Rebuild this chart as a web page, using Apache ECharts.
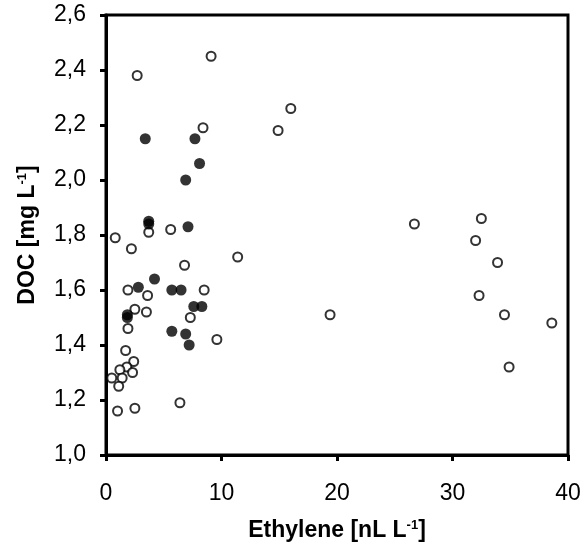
<!DOCTYPE html>
<html>
<head>
<meta charset="utf-8">
<script src="https://cdn.jsdelivr.net/npm/echarts@6/dist/echarts.min.js"></script>
<style>
  html, body { margin: 0; padding: 0; background: #fff; }
  #main { width: 585px; height: 556px; }
</style>
</head>
<body>
<div id="main"></div>
<script>
// open circles
var openX = [0.8, 2.2, 3.7, 5.6, 6.8, 11.4, 1.9, 3.6, 2.5, 3.5, 8.5, 7.3, 1.9, 9.6, 1.7, 2.4, 1.8, 1.2, 2.3, 0.5, 1.4, 1.1, 6.4, 1.0, 2.5,
             2.7, 9.1, 16.0, 14.9, 8.4, 26.7, 32.5, 32.0, 33.9, 32.3, 19.4, 34.5, 38.6, 34.9];
var openY = [1.79, 1.75, 1.81, 1.82, 1.69, 1.72, 1.60, 1.58, 1.53, 1.52, 1.60, 1.50, 1.46, 1.42, 1.38, 1.34, 1.32, 1.31, 1.30, 1.28, 1.28, 1.25, 1.19, 1.16, 1.17,
             2.38, 2.45, 2.26, 2.18, 2.19, 1.84, 1.86, 1.78, 1.70, 1.58, 1.51, 1.51, 1.48, 1.32];
// filled circles
var filledX = [3.4, 7.7, 8.1, 6.9, 3.7, 3.7, 7.1, 2.8, 4.2, 5.7, 6.5, 7.6, 8.3, 1.85, 1.85, 5.7, 6.9, 7.2];
var filledY = [2.15, 2.15, 2.06, 2.00, 1.85, 1.84, 1.83, 1.61, 1.64, 1.60, 1.60, 1.54, 1.54, 1.51, 1.50, 1.45, 1.44, 1.40];

function pairs(xs, ys) {
    var res = [];
    for (var i = 0; i < xs.length; i++) {
        res.push([xs[i], ys[i]]);
    }
    return res;
}

var myChart = echarts.init(document.getElementById('main'));
var font = 'Liberation Sans, Arial, sans-serif';

var nameRich = {
    b: { fontFamily: font, fontWeight: 'bold', fontSize: 23, color: '#000' },
    s: { fontFamily: font, fontWeight: 'bold', fontSize: 13, color: '#000', verticalAlign: 'top', padding: [0, 0, 10, 0] }
};

var option = {
    backgroundColor: '#ffffff',
    animation: false,
    grid: {
        left: 106, right: 17, top: 15, bottom: 101,
        show: true,
        borderColor: '#000',
        borderWidth: 3,
        backgroundColor: 'transparent'
    },
    xAxis: {
        type: 'value',
        min: 0, max: 40, interval: 10,
        name: '{b|Ethylene [nL L}{s|-1}{b|]}',
        nameLocation: 'middle',
        nameGap: 64,
        nameTextStyle: { rich: nameRich },
        axisLine: { lineStyle: { color: '#000', width: 3 } },
        axisTick: { show: true, inside: false, length: 6, lineStyle: { color: '#000', width: 3 } },
        axisLabel: { fontFamily: font, fontSize: 23, color: '#000', margin: 27 },
        splitLine: { show: false }
    },
    yAxis: {
        type: 'value',
        min: 1.0, max: 2.6, interval: 0.2,
        name: '{b|DOC [mg L}{s|-1}{b|]}',
        nameLocation: 'middle',
        nameGap: 67,
        nameRotate: 90,
        nameTextStyle: { rich: nameRich },
        axisLine: { lineStyle: { color: '#000', width: 3 } },
        axisTick: { show: true, inside: false, length: 6, lineStyle: { color: '#000', width: 3 } },
        axisLabel: {
            fontFamily: font, fontSize: 23, color: '#000', margin: 20,
            formatter: function (v) { return v.toFixed(1).replace('.', ','); }
        },
        splitLine: { show: false }
    },
    series: [
        {
            type: 'scatter',
            data: pairs(openX, openY),
            symbol: 'circle',
            symbolSize: 9,
            itemStyle: { color: '#fff', borderColor: '#000', borderWidth: 2 },
            z: 2
        },
        {
            type: 'scatter',
            data: pairs(filledX, filledY),
            symbol: 'circle',
            symbolSize: 11,
            itemStyle: { color: '#000', borderColor: '#000', borderWidth: 0 },
            z: 3
        }
    ]
};

myChart.setOption(option);
</script>
</body>
</html>
